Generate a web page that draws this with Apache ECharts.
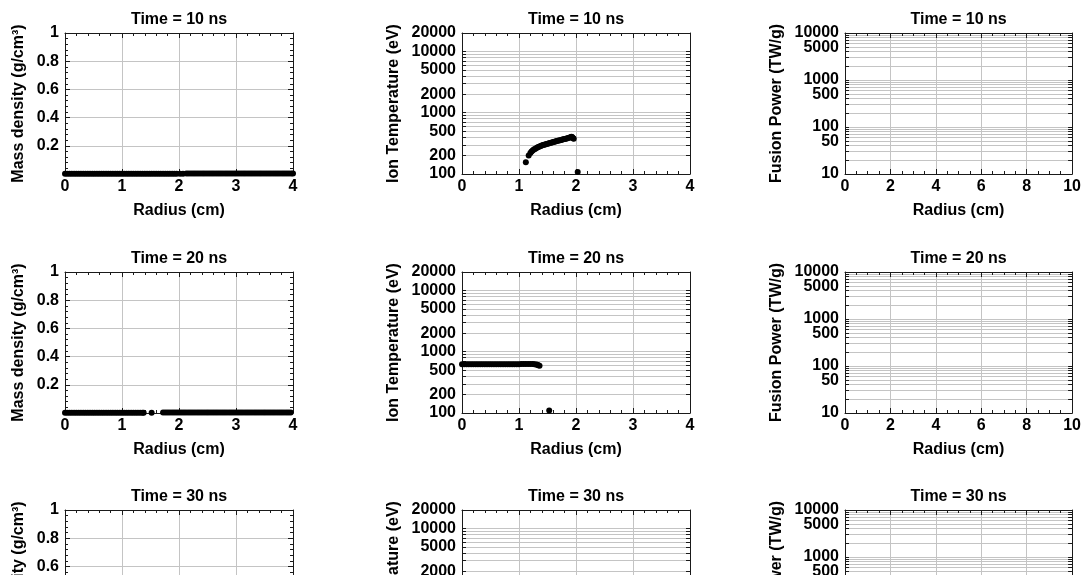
<!DOCTYPE html>
<html><head><meta charset="utf-8">
<script src="https://cdn.jsdelivr.net/npm/echarts@6/dist/echarts.min.js"></script>
<style>html,body{margin:0;padding:0;background:#fff;overflow:hidden}#c{width:1084px;height:700px}</style>
</head><body><div id="c"></div>
<script>
// ---------- data (radius in cm, value) ----------
const times = ['10', '20', '30'];
const panelKinds = ['rho', 'ti', 'fus'];

// Mass density, t = 10 ns
const rho10 = [
 [0,0.001],[0.04,0.001],[0.08,0.001],[0.12,0.001],[0.16,0.001],[0.2,0.001],[0.24,0.001],[0.28,0.001],[0.32,0.001],[0.36,0.001],
 [0.4,0.001],[0.44,0.001],[0.48,0.001],[0.52,0.001],[0.56,0.001],[0.6,0.001],[0.64,0.001],[0.68,0.001],[0.72,0.001],[0.76,0.001],
 [0.8,0.001],[0.84,0.001],[0.88,0.001],[0.92,0.001],[0.96,0.001],[1,0.001],[1.04,0.001],[1.08,0.001],[1.12,0.001],[1.16,0.001],
 [1.2,0.001],[1.24,0.001],[1.28,0.001],[1.32,0.001],[1.36,0.001],[1.4,0.001],[1.44,0.001],[1.48,0.001],[1.52,0.001],[1.56,0.001],
 [1.6,0.001],[1.64,0.001],[1.68,0.001],[1.72,0.001],[1.76,0.001],[1.8,0.001],[1.84,0.001],[1.88,0.001],[1.92,0.001],[1.96,0.001],
 [2.02,0.001],[2.07,0.002],
 [2.13,0.004],[2.17,0.004],[2.21,0.004],[2.25,0.004],[2.29,0.004],[2.33,0.004],[2.37,0.004],[2.41,0.004],[2.45,0.004],[2.49,0.004],
 [2.53,0.004],[2.57,0.004],[2.61,0.004],[2.65,0.004],[2.69,0.004],[2.73,0.004],[2.77,0.004],[2.81,0.004],[2.85,0.004],[2.89,0.004],
 [2.93,0.004],[2.97,0.004],[3.01,0.004],[3.05,0.004],[3.09,0.004],[3.13,0.004],[3.17,0.004],[3.21,0.004],[3.25,0.004],[3.29,0.004],
 [3.33,0.004],[3.37,0.004],[3.41,0.004],[3.45,0.004],[3.49,0.004],[3.53,0.004],[3.57,0.004],[3.61,0.004],[3.65,0.004],[3.69,0.004],
 [3.73,0.004],[3.77,0.004],[3.81,0.004],[3.85,0.004],[3.89,0.004],[3.93,0.004],[3.97,0.004],[4,0.004]
];
// Ion temperature (eV), t = 10 ns
const ti10 = [
 [1.12,155],[1.17,200],[1.2,220],[1.22,232],[1.24,242],[1.26,250],[1.28,257],[1.3,264],[1.32,271],[1.34,276],
 [1.36,281],[1.38,286],[1.4,291],[1.42,296],[1.44,300],[1.46,304],[1.48,308],[1.5,312],[1.52,316],[1.54,320],
 [1.56,324],[1.58,328],[1.6,332],[1.62,336],[1.64,340],[1.66,344],[1.68,348],[1.7,352],[1.72,356],[1.74,360],
 [1.76,364],[1.78,368],[1.8,372],[1.82,376],[1.84,381],[1.86,386],[1.88,392],[1.9,398],[1.92,404],[1.93,400],
 [1.94,392],[1.95,384],[1.96,376],[2.03,108]
];
// Mass density, t = 20 ns
const rho20 = [
 [0,0.001],[0.04,0.001],[0.08,0.001],[0.12,0.001],[0.16,0.001],[0.2,0.001],[0.24,0.001],[0.28,0.001],[0.32,0.001],[0.36,0.001],
 [0.4,0.001],[0.44,0.001],[0.48,0.001],[0.52,0.001],[0.56,0.001],[0.6,0.001],[0.64,0.001],[0.68,0.001],[0.72,0.001],[0.76,0.001],
 [0.8,0.001],[0.84,0.001],[0.88,0.001],[0.92,0.001],[0.96,0.001],[1,0.001],[1.04,0.001],[1.08,0.001],[1.12,0.001],[1.16,0.001],
 [1.2,0.001],[1.24,0.001],[1.28,0.001],[1.32,0.001],[1.36,0.001],[1.38,0.001],
 [1.52,0.001],
 [1.72,0.003],[1.76,0.003],[1.8,0.003],[1.84,0.003],[1.88,0.003],[1.92,0.003],[1.96,0.003],[2,0.003],[2.04,0.003],[2.08,0.003],
 [2.12,0.003],[2.16,0.003],[2.2,0.003],[2.24,0.003],[2.28,0.003],[2.32,0.003],[2.36,0.003],[2.4,0.003],[2.44,0.003],[2.48,0.003],
 [2.52,0.003],[2.56,0.003],[2.6,0.003],[2.64,0.003],[2.68,0.003],[2.72,0.003],[2.76,0.003],[2.8,0.003],[2.84,0.003],[2.88,0.003],
 [2.92,0.003],[2.96,0.003],[3,0.003],[3.04,0.003],[3.08,0.003],[3.12,0.003],[3.16,0.003],[3.2,0.003],[3.24,0.003],[3.28,0.003],
 [3.32,0.003],[3.36,0.003],[3.4,0.003],[3.44,0.003],[3.48,0.003],[3.52,0.003],[3.56,0.003],[3.6,0.003],[3.64,0.003],[3.68,0.003],
 [3.72,0.003],[3.76,0.003],[3.8,0.003],[3.84,0.003],[3.88,0.003],[3.92,0.003],[3.96,0.003]
];
// Ion temperature (eV), t = 20 ns
const ti20 = [
 [0,625],[0.04,625],[0.08,625],[0.12,625],[0.16,625],[0.2,625],[0.24,625],[0.28,625],[0.32,625],[0.36,625],
 [0.4,625],[0.44,625],[0.48,625],[0.52,625],[0.56,625],[0.6,625],[0.64,625],[0.68,625],[0.72,625],[0.76,625],
 [0.8,625],[0.84,625],[0.88,625],[0.92,625],[0.96,626],[1,627],[1.04,628],[1.08,628],[1.12,629],[1.16,629],
 [1.2,629],[1.24,628],[1.27,626],[1.3,620],[1.32,612],[1.34,600],[1.36,590],
 [1.53,110]
];
// t = 30 ns: data lies below the visible window
const rho30 = [];
const ti30 = [];
// Fusion power (TW/g): none above the axis floor
const fus10 = [], fus20 = [], fus30 = [];

const panelData = [
  [rho10, ti10, fus10],
  [rho20, ti20, fus20],
  [rho30, ti30, fus30]
];

// ---------- tick labels ----------
const tiLabels = [100, 200, 500, 1000, 2000, 5000, 10000, 20000];
const tiTicks = [100,200,300,400,500,600,700,800,900,1000,2000,3000,4000,5000,6000,7000,8000,9000,10000,20000];
const fusLabels = [10, 50, 100, 500, 1000, 5000];
const fusTopLabel = [10000];
const fusTicks = [10,20,30,40,50,60,70,80,90,100,200,300,400,500,600,700,800,900,1000,2000,3000,4000,5000,6000,7000,8000,9000,10000];

// ---------- layout / style ----------
const FONT = '"Liberation Sans", Arial, Helvetica, sans-serif';
const FRAME = '#1a1a1a';
const GRIDC = '#c4c4c4';
const colLeft = [65, 462, 845];
const rowTop = [33, 272, 510];
const W = 228, H = 141;

const txt = {fontFamily: FONT, fontSize: 16, fontWeight: 'bold', color: '#000'};

const grids = [], xAxes = [], yAxes = [], series = [];

function xCfg(kind) {
  if (kind === 'fus') return {min: 0, max: 10, interval: 2, minorSplit: 4};
  return {min: 0, max: 4, interval: 1, minorSplit: 5};
}
// keep values at the log-axis ends inside the floating-point extent
function edgeSafe(vals, lo, hi) {
  return vals.map(v => (v === hi ? v * (1 - 1e-9) : v === lo ? v * (1 + 1e-9) : v));
}
const roundFmt = v => String(Math.round(v));

let gi = 0;
for (let r = 0; r < 3; r++) {
  for (let c = 0; c < 3; c++) {
    const kind = panelKinds[c];
    grids.push({left: colLeft[c], top: rowTop[r], width: W, height: H, containLabel: false});
    const xc = xCfg(kind);
    const xBase = {
      type: 'value', gridIndex: gi, min: xc.min, max: xc.max, interval: xc.interval,
      axisLine: {show: true, onZero: false, lineStyle: {color: FRAME, width: 1}},
      axisTick: {show: true, inside: true, length: 5, lineStyle: {color: FRAME}},
      minorTick: {show: true, splitNumber: xc.minorSplit, length: 3, lineStyle: {color: FRAME}},
      splitLine: {show: false}
    };
    const xIdx = xAxes.length;
    xAxes.push(Object.assign({}, xBase, {
      position: 'bottom',
      axisLabel: Object.assign({show: true, margin: 5, hideOverlap: false, showMinLabel: true, showMaxLabel: true, formatter: v => String(v)}, txt),
      splitLine: {show: true, lineStyle: {color: GRIDC, width: 1}},
      name: 'Radius (cm)', nameLocation: 'middle', nameGap: 29,
      nameTextStyle: txt
    }));
    xAxes.push(Object.assign({}, xBase, {
      position: 'top',
      axisLabel: {show: false},
      name: 'Time = ' + times[r] + ' ns', nameLocation: 'middle', nameGap: 5,
      nameTextStyle: txt
    }));

    let yBase;
    let yName, yGap, labelExtra = {};
    if (kind === 'rho') {
      yBase = {
        type: 'value', gridIndex: gi, min: 0, max: 1, interval: 0.2,
        minorTick: {show: true, splitNumber: 5, length: 3, lineStyle: {color: FRAME}},
        axisTick: {show: true, inside: true, length: 5, lineStyle: {color: FRAME}}
      };
      labelExtra = {formatter: v => (v === 0 ? '' : String(Math.round(v * 10) / 10))};
      yName = 'Mass density (g/cm³)'; yGap = 38;
    } else if (kind === 'ti') {
      yBase = {
        type: 'log', logBase: 10, gridIndex: gi, min: 100, max: 20000,
        axisTick: {show: true, inside: true, length: 4, customValues: edgeSafe(tiTicks, 100, 20000), lineStyle: {color: FRAME}}
      };
      labelExtra = {customValues: edgeSafe(tiLabels, 100, 20000), formatter: roundFmt};
      yName = 'Ion Temperature (eV)'; yGap = 60;
    } else {
      yBase = {
        type: 'log', logBase: 10, gridIndex: gi, min: 10, max: 10000,
        axisTick: {show: true, inside: true, length: 4, customValues: edgeSafe(fusTicks, 10, 10000), lineStyle: {color: FRAME}}
      };
      labelExtra = {customValues: edgeSafe(fusLabels, 10, 10000), formatter: roundFmt};
      yName = 'Fusion Power (TW/g)'; yGap = 60;
    }
    yBase.axisLine = {show: true, onZero: false, lineStyle: {color: FRAME, width: 1}};
    const yIdx = yAxes.length;
    yAxes.push(Object.assign({}, yBase, {
      position: 'left',
      axisLabel: Object.assign({show: true, margin: 6, hideOverlap: false, showMinLabel: true, showMaxLabel: true}, txt, labelExtra),
      splitLine: {show: true, lineStyle: {color: GRIDC, width: 1}},
      name: yName, nameLocation: 'middle', nameGap: yGap, nameRotate: 90,
      nameTextStyle: txt
    }));
    yAxes.push(Object.assign({}, yBase, {
      position: 'right',
      axisLabel: {show: false},
      splitLine: {show: false}
    }));
    if (kind === 'fus') {
      // separate label layer for the top decade so it is not culled by the 5000 label
      yAxes.push({
        type: 'log', logBase: 10, gridIndex: gi, min: 10, max: 10000, position: 'left',
        axisLine: {show: false}, axisTick: {show: false}, splitLine: {show: false},
        axisLabel: Object.assign({show: true, margin: 6, customValues: edgeSafe(fusTopLabel, 10, 10000), formatter: roundFmt}, txt)
      });
    }

    series.push({
      type: 'scatter', xAxisIndex: xIdx, yAxisIndex: yIdx,
      data: panelData[r][c], symbol: 'circle', symbolSize: 6,
      itemStyle: {color: '#000', opacity: 1}, silent: true, clip: false
    });
    gi++;
  }
}

const chart = echarts.init(document.getElementById('c'), null, {renderer: 'canvas'});
chart.setOption({
  backgroundColor: '#fff',
  animation: false,
  grid: grids, xAxis: xAxes, yAxis: yAxes, series: series
});
</script>
</body></html>
